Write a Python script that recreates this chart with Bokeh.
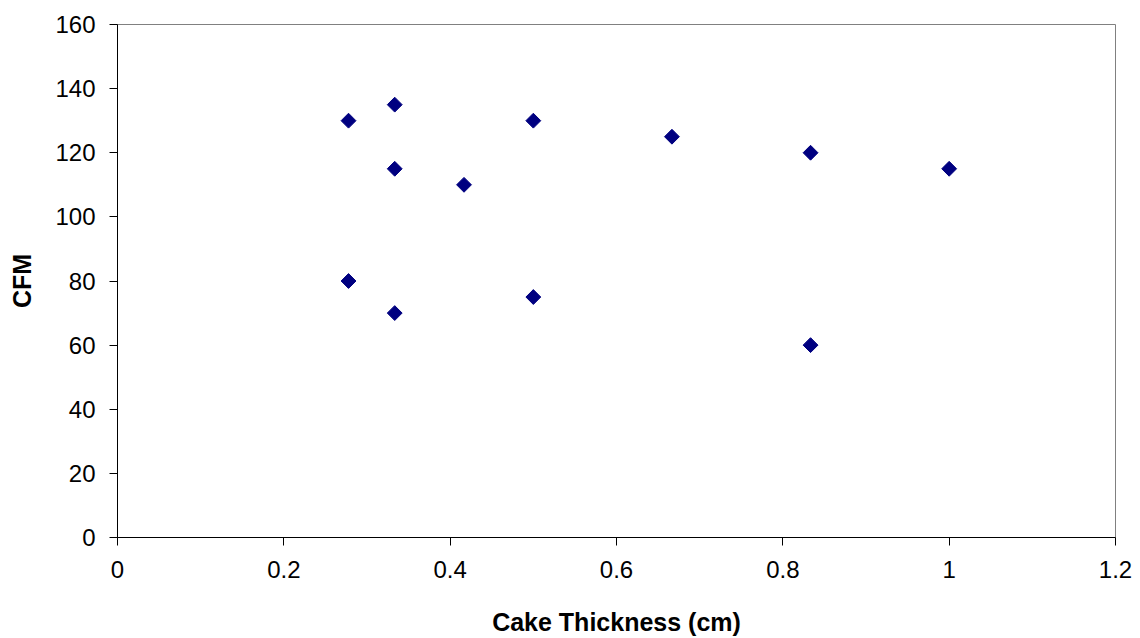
import math
from bokeh.plotting import figure
from bokeh.models import ColumnDataSource, Range1d, FixedTicker
from bokeh.embed import file_html
from bokeh.resources import INLINE

# Cake thickness (cm) and measured air flow (CFM)
thickness = [5/18, 1/3, 1/3, 5/12, 1/2, 2/3, 5/6, 1.0, 5/18, 1/3, 1/2, 5/6]
cfm = [130, 135, 115, 110, 130, 125, 120, 115, 80, 70, 75, 60]

x_ticks = [0, 0.2, 0.4, 0.6, 0.8, 1.0, 1.2]
y_ticks = [0, 20, 40, 60, 80, 100, 120, 140, 160]

src = ColumnDataSource(dict(x=thickness, y=cfm))

p = figure(width=1140, height=638, output_backend="svg", toolbar_location=None,
           x_range=Range1d(0, 1.2), y_range=Range1d(0, 160),
           min_border_left=117, min_border_right=25, min_border_top=24, min_border_bottom=100)

p.scatter("x", "y", source=src, marker="square", size=10.5, angle=math.pi / 4,
          fill_color="#000080", line_color="#000080")

p.outline_line_color = "#808080"
p.outline_line_width = 1
p.xgrid.visible = False
p.ygrid.visible = False

FONT = "Liberation Sans"
for ax, ticks in ((p.xaxis[0], x_ticks), (p.yaxis[0], y_ticks)):
    ax.ticker = FixedTicker(ticks=ticks)
    ax.axis_line_color = "black"
    ax.axis_line_width = 1
    ax.major_tick_line_color = "black"
    ax.major_tick_out = 8
    ax.major_tick_in = 0
    ax.minor_tick_line_color = None
    ax.major_label_text_font = FONT
    ax.major_label_text_font_size = "24px"
    ax.major_label_text_color = "black"
    ax.axis_label_text_font = FONT
    ax.axis_label_text_font_size = "25px"
    ax.axis_label_text_font_style = "bold"
    ax.axis_label_text_color = "black"

p.xaxis[0].axis_label = "Cake Thickness (cm)"
p.yaxis[0].axis_label = "CFM"
p.xaxis[0].major_label_standoff = 15
p.yaxis[0].major_label_standoff = 14
p.xaxis[0].axis_label_standoff = 27
p.yaxis[0].axis_label_standoff = 16
p.xaxis[0].major_label_overrides = {0: "0", 1.0: "1"}

open("out.html", "w").write(file_html(p, INLINE))
